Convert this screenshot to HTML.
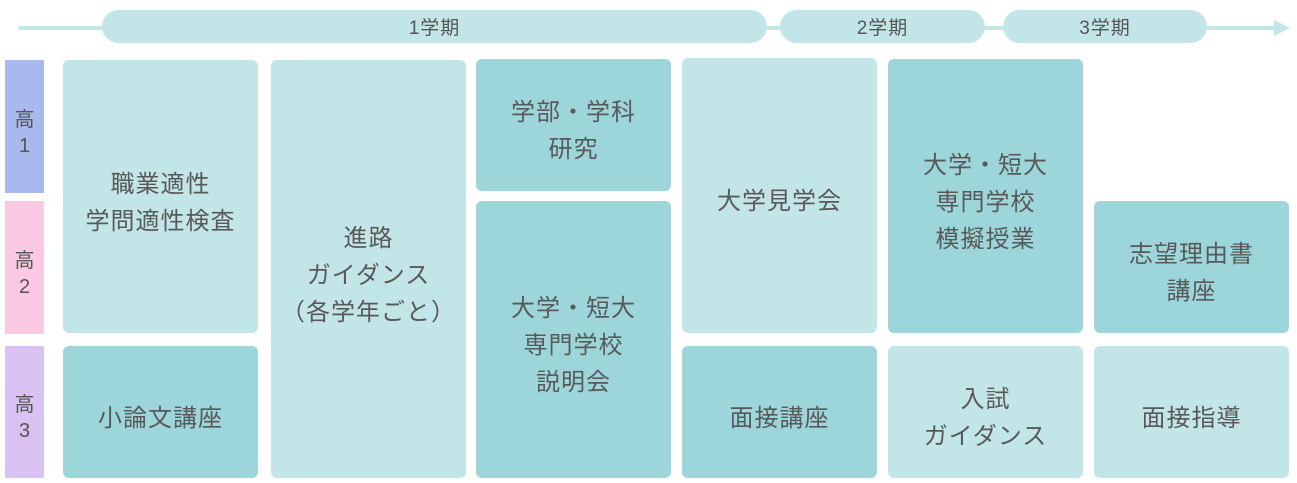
<!DOCTYPE html>
<html><head><meta charset="utf-8"><style>
body{margin:0;width:1297px;height:483px;background:#fff;position:relative;overflow:hidden;font-family:"Liberation Sans","Noto Sans CJK JP",sans-serif;color:#595959}
.a{position:absolute;display:flex;align-items:center;justify-content:center;text-align:center;box-sizing:border-box}
.b{border-radius:6px;font-size:24px;line-height:37px;letter-spacing:1px;padding-top:12px}
.l{background:#c2e6e8}.d{background:#9cd6da}
.p{background:#c2e6e8;border-radius:17px;font-size:19px;color:#555;letter-spacing:1px}
.s{font-size:20px;line-height:26px;color:#555;padding-top:12px}
</style></head><body>
<div style="position:absolute;left:18px;top:26px;width:1262px;height:4px;background:#c2e6e8;border-radius:2px"></div>
<svg style="position:absolute;left:1272px;top:18px" width="20" height="20"><polygon points="2,2 18,10 2,18" fill="#c2e6e8"/></svg>
<div class="a p" style="left:102px;top:10px;width:665px;height:33px">1学期</div>
<div class="a p" style="left:780px;top:10px;width:205px;height:33px">2学期</div>
<div class="a p" style="left:1003px;top:10px;width:204px;height:33px">3学期</div>

<div class="a s" style="left:5px;top:60px;width:39px;height:133px;background:#a9b9ee">高<br>1</div>
<div class="a s" style="left:5px;top:201px;width:39px;height:133px;background:#fcc9e5">高<br>2</div>
<div class="a s" style="left:5px;top:346px;width:39px;height:132px;background:#d9c1f2">高<br>3</div>

<div class="a b l" style="left:63px;top:60px;width:195px;height:273px">職業適性<br>学問適性検査</div>
<div class="a b d" style="left:63px;top:346px;width:195px;height:132px">小論文講座</div>
<div class="a b l" style="left:271px;top:60px;width:195px;height:418px">進路<br>ガイダンス<br>（各学年ごと）</div>
<div class="a b d" style="left:476px;top:59px;width:195px;height:132px">学部・学科<br>研究</div>
<div class="a b d" style="left:476px;top:201px;width:195px;height:277px">大学・短大<br>専門学校<br>説明会</div>
<div class="a b l" style="left:682px;top:58px;width:195px;height:275px">大学見学会</div>
<div class="a b d" style="left:682px;top:346px;width:195px;height:132px">面接講座</div>
<div class="a b d" style="left:888px;top:59px;width:195px;height:274px">大学・短大<br>専門学校<br>模擬授業</div>
<div class="a b l" style="left:888px;top:346px;width:195px;height:132px">入試<br>ガイダンス</div>
<div class="a b d" style="left:1094px;top:201px;width:195px;height:132px">志望理由書<br>講座</div>
<div class="a b l" style="left:1094px;top:346px;width:195px;height:132px">面接指導</div>
</body></html>
